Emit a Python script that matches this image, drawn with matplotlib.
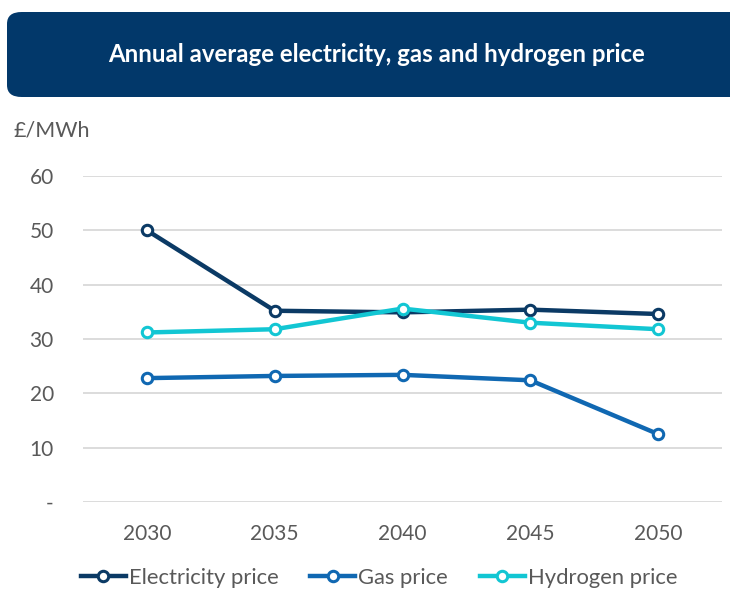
import matplotlib.pyplot as plt
from matplotlib.patches import FancyBboxPatch


years = ["2030", "2035", "2040", "2045", "2050"]
electricity = [50.0, 35.2, 34.9, 35.4, 34.6]
gas = [22.8, 23.2, 23.4, 22.4, 12.5]
hydrogen = [31.2, 31.8, 35.6, 33.0, 31.8]
y_ticks = [0, 10, 20, 30, 40, 50, 60]
y_labels = ["-", "10", "20", "30", "40", "50", "60"]

plt.rcParams["font.family"] = ["Lato", "DejaVu Sans"]

fig = plt.figure(figsize=(7.30, 5.91), dpi=100)

# title banner
banner = FancyBboxPatch((7 / 730, 1 - 97 / 591), 760 / 730, 85 / 591,
                        boxstyle="round,pad=0,rounding_size=0.02",
                        transform=fig.transFigure, facecolor="#02386A",
                        edgecolor="none")
fig.patches.append(banner)
fig.text(377 / 730, 1 - 55 / 591, "Annual average electricity, gas and hydrogen price",
         ha="center", va="center", color="white", fontsize=17.3, fontweight="bold")

ax = fig.add_axes([83 / 730, 1 - 502 / 591, 639 / 730, 326 / 591])
x = range(len(years))
series = [
    ("Electricity price", electricity, "#0B3A65", 2),
    ("Gas price", gas, "#1068B2", 1),
    ("Hydrogen price", hydrogen, "#12C6D3", 3),
]
for name, vals, color, z in series:
    ax.plot(x, vals, color=color, lw=3.2, marker="o", ms=7.5, mfc="white",
            mec=color, mew=2.2, label=name, zorder=z, clip_on=False)

ax.set_xlim(-0.5, 4.5)
ax.set_ylim(0, 60)
ax.set_yticks(y_ticks)
ax.set_yticklabels(y_labels)
ax.set_xticks(list(x))
ax.set_xticklabels(years)
ax.grid(axis="y", color="#D9D9D9", lw=1.3)
ax.set_axisbelow(True)
for s in ax.spines.values():
    s.set_visible(False)
ax.tick_params(length=0, labelsize=15, labelcolor="#595959")
ax.tick_params(axis="y", pad=21)
ax.tick_params(axis="x", pad=16)

fig.text(14 / 730, 1 - 130 / 591, "£/MWh", ha="left", va="center",
         fontsize=15.5, color="#595959")

leg = fig.legend(loc="center", bbox_to_anchor=(379 / 730, 1 - 578 / 591), ncol=3,
                 frameon=False, fontsize=15.8, handlelength=2.05, handletextpad=0.14,
                 columnspacing=1.45, labelcolor="#595959")

fig.savefig("out.png", dpi=100)
